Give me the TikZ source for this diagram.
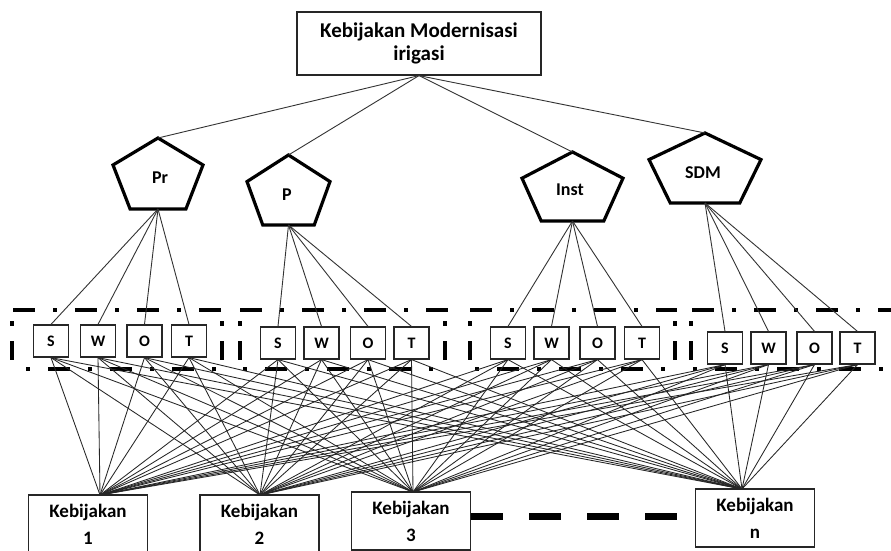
\documentclass[tikz,border=0pt]{standalone}
\usepackage{fontspec}
\setmainfont{Carlito}
\begin{document}
\begin{tikzpicture}[x=1pt,y=-1pt,
  box/.style={draw=black!85, line width=1.2pt, inner sep=0pt},
  topbox/.style={box, minimum width=244pt, minimum height=63pt, align=center,
    font=\fontsize{21}{23}\selectfont\bfseries},
  swot/.style={box, minimum width=35pt, minimum height=32pt,
    font=\fontsize{16}{16}\selectfont\bfseries},
  kbox/.style={box, minimum width=119pt, minimum height=58pt, align=center,
    font=\fontsize{19}{27}\selectfont\bfseries},
  plabel/.style={font=\fontsize{18}{18}\selectfont\bfseries, inner sep=0pt},
  pentline/.style={line width=3.2pt, line join=miter},
  link/.style={draw=black!80, line width=0.9pt},
  xlink/.style={draw=black!85, line width=0.85pt},
  topdash/.style={line width=4pt, dash pattern=on 22pt off 18pt on 4pt off 18pt},
  botdash/.style={line width=4pt, dash pattern=on 4pt off 18pt on 22pt off 18pt},
  vdash/.style={line width=4.5pt},
  bigdash/.style={line width=7pt, dash pattern=on 32pt off 26pt}]
\useasboundingbox (0,0) rectangle (891,551);
\fill[white] (0,0) rectangle (891,551);

% top box
\node[topbox] (top) at (419,43.5) {Kebijakan Modernisasi\\irigasi};

% pentagons
\foreach \n/\cx/\tp/\w/\h/\lx/\ly/\t in {pr/158/138/90/71/160/178/Pr, p/288.5/155/83/70/287/195/P, inst/572.5/152/101/69/570/190/Inst, sdm/705/133/112/70/703/173/SDM}{
  \draw[pentline] (\cx,\tp) -- (\cx+\w/2,\tp+0.38*\h) -- (\cx+0.31*\w,\tp+\h)
     -- (\cx-0.31*\w,\tp+\h) -- (\cx-\w/2,\tp+0.38*\h) -- cycle;
  \coordinate (\n top) at (\cx,\tp);
  \coordinate (\n bot) at (\cx,\tp+\h);
  \node[plabel] (\n lab) at (\lx,\ly) {\t};
}

% SWOT boxes
\foreach \g/\y/\xs/\xw/\xo/\xt in {g1/341/51/98/144.5/189, g2/343/278/321.5/368/411.5, g3/343/508/551.5/597.5/642, g4/348/725/768.5/814.5/857.5}{
  \node[swot] (\g s) at (\xs,\y) {S};
  \node[swot] (\g w) at (\xw,\y) {W};
  \node[swot] (\g o) at (\xo,\y) {O};
  \node[swot] (\g t) at (\xt,\y) {T};
}

% dash-dot frames
\draw[topdash] (13,310) -- (222,310);
\draw[topdash] (240,310) -- (448,310);
\draw[topdash] (470,310) -- (677,310);
\draw[topdash] (692,310) -- (891,310);
\draw[botdash] (26,369) -- (216,369);
\draw[botdash] (243,369) -- (434,369);
\draw[botdash] (475,369) -- (665,369);
\draw[botdash] (693,369) -- (884,369);
\foreach \x in {12,222,240,445,470,675,691}{
  \draw[vdash] (\x,321) -- (\x,326);
  \draw[vdash] (\x,341) -- (\x,360);
}

% policy boxes
\node[kbox] (k1) at (88,524) {Kebijakan\\1};
\node[kbox] (k2) at (259.5,524) {Kebijakan\\2};
\node[kbox] (k3) at (411,521) {Kebijakan\\3};
\node[kbox] (kn) at (755,518) {Kebijakan\\n};
\coordinate (k1in) at (100,495);
\coordinate (k2in) at (260,495);
\coordinate (k3in) at (413,492);
\coordinate (knin) at (742,489);

% connectors top -> pentagons
\foreach \n in {pr,p,inst,sdm}{
  \draw[link] (top.south) -- (\n top);
}
% pentagons -> SWOT
\foreach \n/\g in {pr/g1,p/g2,inst/g3,sdm/g4}{
  \foreach \l in {s,w,o,t}{
    \draw[link] (\n bot) -- (\g\l.north);
  }
}
% SWOT -> policies
\foreach \g in {g1,g2,g3,g4}{
  \foreach \l in {s,w,o,t}{
    \foreach \k in {k1in,k2in,k3in,knin}{
      \draw[xlink] (\g\l.south) -- (\k);
    }
  }
}

% thick dashes between Kebijakan 3 and n
\path (k3.east) ++(0,-5) coordinate (dstart);
\draw[bigdash] (dstart) -- (dstart -| kn.west);
\end{tikzpicture}
\end{document}
